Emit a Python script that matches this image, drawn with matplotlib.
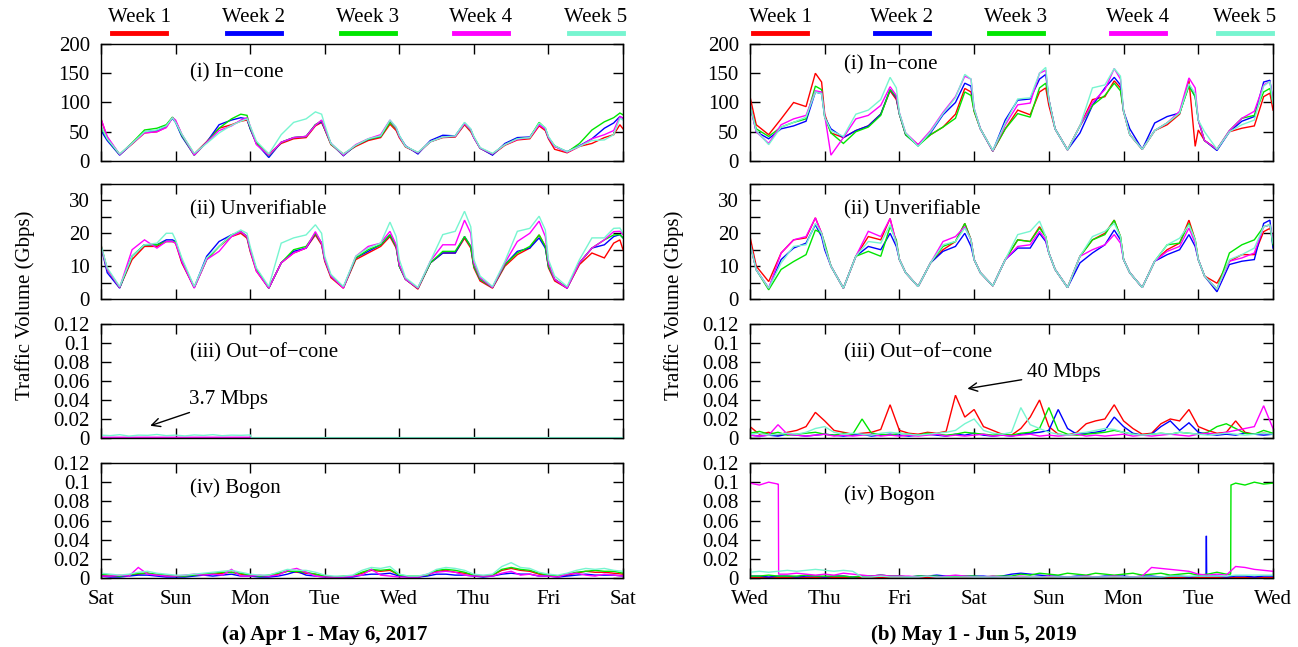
import numpy as np
import matplotlib
matplotlib.use('Agg')
import matplotlib.pyplot as plt
from matplotlib.lines import Line2D

plt.rcParams['font.family'] = ['Liberation Serif', 'DejaVu Serif']
plt.rcParams['font.size'] = 15

# ── Sampling grids ────────────────────────────────────────────────────────────
# diurnal series: 8 samples per day at these hours (+ final midnight)
DAY_HOURS = [0, 2, 6, 10, 14, 18, 21, 23]
T_DIURNAL = [d + h / 24 for d in range(7) for h in DAY_HOURS] + [7]
# small / noisy series: every 3 hours
HOURS_3H = list(range(0, 169, 3))

WEEKS = ['Week 1', 'Week 2', 'Week 3', 'Week 4', 'Week 5']
WEEK_COLORS = ['#ff0000', '#0000ff', '#00e600', '#ff00ff', '#77f5d0']
DAYS_A = ['Sat', 'Sun', 'Mon', 'Tue', 'Wed', 'Thu', 'Fri', 'Sat']
DAYS_B = ['Wed', 'Thu', 'Fri', 'Sat', 'Sun', 'Mon', 'Tue', 'Wed']

# ── (a) 2017: In-cone (Gbps) ──────────────────────────────────────────────────
IN_A_W1 = [72, 40, 11, 29, 48, 50, 58, 74,  68, 45, 12, 33, 56, 62, 68, 70,
           56, 30, 12, 30, 38, 40, 60, 66,  54, 28, 12, 25, 35, 40, 63, 52,
           40, 24, 14, 33, 40, 41, 62, 50,  40, 22, 11, 27, 36, 38, 60, 52,
           38, 20, 14, 25, 30, 40, 45, 62,  55]
IN_A_W2 = [52, 35, 10, 30, 50, 52, 60, 73,  66, 42, 10, 32, 62, 70, 74, 72,
           55, 30, 6, 32, 40, 42, 62, 67,   55, 30, 9, 27, 37, 42, 68, 56,
           43, 26, 12, 35, 44, 43, 65, 54,  40, 22, 10, 30, 40, 41, 63, 55,
           40, 25, 16, 26, 38, 56, 65, 76,  73]
IN_A_W3 = [58, 38, 11, 31, 53, 56, 62, 75,  68, 44, 10, 32, 56, 72, 80, 78,
           57, 31, 9, 32, 40, 42, 62, 69,   55, 29, 10, 27, 37, 42, 66, 55,
           42, 25, 14, 33, 41, 42, 64, 52,  41, 22, 12, 28, 38, 40, 66, 56,
           40, 26, 15, 30, 53, 67, 74, 82,  79]
IN_A_W4 = [72, 42, 11, 30, 48, 50, 57, 74,  70, 46, 10, 32, 52, 60, 70, 74,
           60, 28, 10, 32, 40, 42, 61, 70,  56, 30, 10, 28, 38, 45, 70, 56,
           42, 25, 14, 33, 41, 42, 64, 53,  40, 22, 12, 28, 37, 40, 62, 55,
           40, 25, 15, 25, 38, 45, 52, 76,  73]
IN_A_W5 = [60, 38, 12, 30, 50, 53, 60, 74,  66, 46, 13, 30, 48, 61, 68, 72,
           60, 34, 12, 45, 66, 72, 84, 80,  62, 30, 12, 27, 38, 43, 70, 58,
           44, 25, 15, 33, 41, 43, 66, 55,  42, 23, 13, 28, 38, 40, 65, 57,
           42, 26, 16, 25, 35, 36, 45, 73,  70]

# ── (a) 2017: Unverifiable (Gbps) ─────────────────────────────────────────────
UNV_A_W1 = [16.5, 9, 3.5, 12, 16, 16, 17.5, 17.5,  17, 11, 3.5, 12, 16, 19, 20, 18.5,
            14.5, 8.5, 3.3, 11, 14, 15.5, 19.5, 16.5,  11.5, 6.5, 3.3, 12, 14, 16, 19, 15.5,
            10, 6, 3, 11, 14, 14, 18.5, 15.5,  9.5, 5.5, 3.3, 10, 13.5, 15.5, 19.5, 16,
            9.5, 5.5, 3.3, 10.5, 14, 12.5, 17, 18,  15]
UNV_A_W2 = [16, 8, 3.3, 13, 16.5, 16.5, 18, 18,  17.5, 11.5, 3.5, 13, 17.5, 19.5, 20.5, 19,
            15, 9, 3.3, 11, 14.5, 15.5, 20, 17,  12, 7, 3.5, 12.5, 14.5, 16.5, 19.5, 16,
            10, 6, 3.3, 11, 14, 14, 19, 16,  10, 6, 3.5, 10.5, 14.5, 15.5, 18.6, 15.5,
            10, 6, 3.3, 11, 15.5, 16.5, 19, 19.6,  18.6]
UNV_A_W3 = [16, 9, 3.5, 13, 16.5, 16.5, 17.5, 17.5,  17.5, 12, 3.5, 12, 16, 19.5, 20.5, 19,
            15, 9, 3.3, 11, 15, 16, 20, 17,  12, 7, 3.5, 12.5, 15, 16.5, 19.6, 16,
            10, 6, 3.3, 11, 14.5, 14.5, 19, 16,  10, 6, 3.5, 10.5, 14, 16, 19.5, 16,
            10, 6, 3.5, 11, 15.5, 18, 19.5, 19.6,  18.6]
UNV_A_W4 = [16, 9, 3.5, 15, 18, 15.5, 17.5, 17.5,  17, 11.5, 3.3, 12, 14.5, 19, 20.5, 19,
            15, 8.5, 3.3, 11, 14, 15.5, 20.5, 17,  12, 7, 3.3, 13, 16, 17, 20.6, 16.5,
            10.5, 6, 3.3, 11.5, 16.5, 16.5, 24, 20,  11, 6.5, 3.5, 11, 17.5, 20, 23.7, 19,
            11, 6, 3.3, 11, 15.5, 18, 20.5, 20.6,  19.6]
UNV_A_W5 = [16.5, 9.5, 3.8, 13, 16.5, 17, 20, 20,  18, 12.5, 3.8, 12.5, 16, 19.5, 21, 20,
            16, 9.5, 3.8, 17, 18.6, 19.5, 22.6, 20,  13, 7.5, 3.8, 13, 15.5, 17, 23.4, 19,
            12, 6.5, 3.5, 11.5, 19.6, 20.6, 26.7, 22,  12, 7, 3.8, 11.5, 20.6, 21.5, 25.2, 21,
            12, 7, 3.8, 12, 18.6, 18.6, 21.5, 21.6,  20]

# ── (a) 2017: Out-of-cone (Gbps) ──────────────────────────────────────────────
OUT_A_FLAT_H = [0, 168]
OUT_A_W1 = [0.0003, 0.0003]
OUT_A_W2 = [0.0003, 0.0003]
OUT_A_W3 = [0.0003, 0.0003]
OUT_A_W4_H = [0, 48, 48.5, 168]
OUT_A_W4 = [0.0008, 0.0008, 0.0002, 0.0002]
OUT_A_W5_H = [0, 3, 6, 9, 12, 15, 18, 21, 24, 27, 30, 33, 36, 39, 42, 45, 48, 48.5, 168]
OUT_A_W5 = [0.003, 0.0025, 0.0035, 0.002, 0.003, 0.0028, 0.0037, 0.0025,
            0.003, 0.0022, 0.0032, 0.0027, 0.0035, 0.0024, 0.003, 0.0028,
            0.0032, 0.0004, 0.0004]

# ── (a) 2017: Bogon (Gbps), 3-hourly ──────────────────────────────────────────
BOG_A_W1 = [0.003, 0.002, 0.002, 0.003, 0.004, 0.005, 0.003, 0.002,
            0.002, 0.002, 0.003, 0.004, 0.004, 0.005, 0.006, 0.004,
            0.003, 0.002, 0.002, 0.004, 0.007, 0.006, 0.005, 0.004,
            0.002, 0.001, 0.001, 0.002, 0.005, 0.008, 0.007, 0.008,
            0.003, 0.001, 0.001, 0.003, 0.007, 0.008, 0.006, 0.005,
            0.003, 0.002, 0.003, 0.008, 0.010, 0.008, 0.007, 0.004,
            0.003, 0.002, 0.003, 0.005, 0.007, 0.006, 0.006, 0.005, 0.004]
BOG_A_W2 = [0.002, 0.001, 0.001, 0.002, 0.003, 0.003, 0.002, 0.001,
            0.001, 0.001, 0.002, 0.003, 0.002, 0.003, 0.004, 0.002,
            0.002, 0.001, 0.001, 0.002, 0.004, 0.007, 0.003, 0.002,
            0.001, 0.001, 0.001, 0.001, 0.003, 0.004, 0.004, 0.005,
            0.002, 0.001, 0.001, 0.002, 0.004, 0.004, 0.003, 0.003,
            0.002, 0.001, 0.002, 0.004, 0.005, 0.004, 0.004, 0.002,
            0.002, 0.001, 0.002, 0.003, 0.004, 0.003, 0.003, 0.003, 0.002]
BOG_A_W3 = [0.004, 0.003, 0.002, 0.003, 0.005, 0.005, 0.004, 0.003,
            0.002, 0.002, 0.003, 0.004, 0.005, 0.006, 0.006, 0.005,
            0.003, 0.002, 0.003, 0.005, 0.007, 0.007, 0.006, 0.004,
            0.002, 0.001, 0.002, 0.002, 0.006, 0.009, 0.008, 0.009,
            0.003, 0.002, 0.002, 0.003, 0.008, 0.009, 0.008, 0.006,
            0.003, 0.002, 0.003, 0.009, 0.011, 0.009, 0.008, 0.005,
            0.003, 0.002, 0.004, 0.006, 0.007, 0.008, 0.007, 0.007, 0.005]
BOG_A_W4 = [0.002, 0.002, 0.003, 0.002, 0.011, 0.004, 0.003, 0.002,
            0.002, 0.003, 0.004, 0.003, 0.004, 0.003, 0.009, 0.002,
            0.002, 0.003, 0.002, 0.003, 0.008, 0.010, 0.006, 0.002,
            0.001, 0.001, 0.001, 0.002, 0.003, 0.009, 0.003, 0.002,
            0.001, 0.001, 0.001, 0.004, 0.006, 0.007, 0.006, 0.003,
            0.002, 0.002, 0.002, 0.005, 0.007, 0.003, 0.004, 0.002,
            0.002, 0.001, 0.004, 0.005, 0.003, 0.002, 0.004, 0.003, 0.002]
BOG_A_W5 = [0.005, 0.004, 0.003, 0.004, 0.006, 0.007, 0.005, 0.004,
            0.003, 0.003, 0.004, 0.005, 0.006, 0.007, 0.008, 0.006,
            0.004, 0.003, 0.003, 0.006, 0.009, 0.008, 0.008, 0.006,
            0.003, 0.002, 0.002, 0.003, 0.008, 0.011, 0.010, 0.012,
            0.004, 0.002, 0.002, 0.004, 0.009, 0.011, 0.010, 0.008,
            0.004, 0.003, 0.004, 0.012, 0.016, 0.011, 0.010, 0.006,
            0.004, 0.003, 0.005, 0.008, 0.010, 0.009, 0.010, 0.008, 0.007]

# ── (b) 2019: In-cone (Gbps) ──────────────────────────────────────────────────
IN_B_W1 = [110, 62, 45, 72, 100, 93, 150, 135,  80, 48, 40, 52, 60, 80, 120, 105,
           80, 45, 28, 45, 58, 80, 124, 118,   85, 55, 17, 55, 87, 79, 118, 125,
           95, 55, 19, 60, 105, 110, 137, 125,  85, 45, 20, 52, 62, 80, 138, 25,
           53, 35, 20, 50, 56, 60, 110, 116,  87]
IN_B_W2 = [96, 50, 38, 55, 60, 68, 118, 115,  75, 55, 40, 52, 60, 80, 122, 108,
           80, 45, 26, 48, 79, 100, 133, 128,  88, 55, 17, 70, 104, 106, 140, 148,
           105, 55, 19, 48, 95, 125, 143, 130,  85, 55, 20, 65, 76, 82, 130, 110,
           70, 35, 18, 50, 68, 76, 135, 138,  99]
IN_B_W3 = [96, 55, 42, 58, 66, 72, 128, 122,  75, 48, 30, 50, 58, 78, 122, 110,
           80, 45, 26, 45, 58, 73, 118, 112,  85, 55, 17, 55, 81, 75, 125, 133,
           105, 55, 19, 60, 95, 112, 133, 120,  85, 45, 20, 52, 65, 82, 128, 110,
           70, 35, 20, 52, 73, 78, 118, 124,  99]
IN_B_W4 = [96, 50, 30, 62, 72, 78, 120, 118,  78, 10, 40, 72, 78, 95, 127, 112,
           82, 48, 28, 52, 83, 110, 145, 140,  90, 55, 17, 62, 96, 99, 150, 155,
           105, 55, 19, 60, 100, 122, 158, 140,  85, 45, 20, 52, 65, 85, 142, 125,
           70, 35, 20, 52, 73, 85, 130, 136,  105]
IN_B_W5 = [96, 52, 28, 58, 66, 75, 118, 115,  75, 52, 42, 80, 87, 105, 143, 125,
           82, 48, 25, 50, 81, 108, 148, 140,  90, 55, 18, 65, 106, 108, 150, 160,
           105, 55, 19, 60, 125, 130, 158, 145,  85, 45, 20, 52, 65, 82, 132, 115,
           70, 50, 20, 50, 62, 70, 128, 136,  99]

# ── (b) 2019: Unverifiable (Gbps) ─────────────────────────────────────────────
UNV_B_W1 = [19, 10, 5.3, 14, 18, 18.6, 24.7, 20,  16, 10, 3.3, 13, 19, 18, 24.5, 17,
            12, 8, 3.8, 11, 15, 17.5, 23, 18,  12, 8, 4, 12, 18, 17.5, 22, 19,
            14, 9, 3.5, 13, 18, 20, 24, 19,  12, 8, 3.5, 11.5, 15, 17, 24, 18,
            12, 7, 4.8, 11.5, 13.5, 13.5, 20.5, 21.5,  18.6]
UNV_B_W2 = [17, 8.9, 3.3, 12, 15.5, 17, 22.6, 19,  15, 10, 3.3, 13, 16, 15, 20, 16,
            12, 8, 3.8, 11, 14.5, 16, 20, 16,  12, 8, 4, 12, 15.5, 15.5, 20, 17.5,
            14, 9, 3.5, 11, 14, 16.5, 21, 18,  12, 8, 3.5, 11.5, 13.5, 15, 19.6, 16,
            12, 7, 2.2, 10.5, 11.5, 12, 23, 24,  15.5]
UNV_B_W3 = [17, 8.9, 2.8, 9, 11.4, 13.5, 21, 20,  17, 10, 3.3, 13, 14.5, 13, 22, 18,
            12, 8, 3.8, 11, 16, 17.5, 23, 18,  12, 8, 4, 12, 18, 17.5, 21.6, 19,
            14, 9, 3.5, 13, 18, 19.6, 24, 19,  12, 8, 3.5, 11.5, 16.5, 17, 23, 18,
            12, 7, 3, 14, 16.5, 18, 22, 22.6,  16.5]
UNV_B_W4 = [17, 8.9, 3.3, 14, 18, 19, 24.7, 20,  16, 10, 3.3, 13, 20.6, 19, 24.5, 17,
            12, 8, 3.8, 11, 17.5, 19, 22, 18,  12, 8, 4, 12, 16, 16.5, 20.6, 18,
            14, 9, 3.5, 13, 15, 16.5, 19.6, 17,  12, 8, 3.5, 11.5, 14.5, 16, 21.6, 17,
            12, 7, 3, 11.5, 12.5, 14, 22, 22.5,  18]
UNV_B_W5 = [17, 8.9, 3.3, 11, 16, 16.5, 23, 20,  16, 10, 3.3, 13, 17.5, 17, 22.6, 17,
            12, 8, 3.8, 11, 16.5, 17.5, 21.6, 18,  12, 8, 4, 12, 19.6, 20.6, 23.7, 19,
            14, 9, 3.5, 13, 19, 20.6, 23, 19,  12, 8, 3.5, 11.5, 16.5, 18.5, 22.6, 18,
            12, 7, 3, 12, 13.5, 15.5, 22, 22.6,  17]

# ── (b) 2019: Out-of-cone (Gbps), 3-hourly ────────────────────────────────────
OUT_B_W1 = [0.012, 0.004, 0.006, 0.003, 0.006, 0.008, 0.012, 0.027,
            0.018, 0.008, 0.006, 0.004, 0.005, 0.006, 0.009, 0.035,
            0.008, 0.005, 0.004, 0.006, 0.005, 0.007, 0.045, 0.022,
            0.030, 0.012, 0.008, 0.004, 0.003, 0.010, 0.022, 0.040,
            0.012, 0.004, 0.003, 0.006, 0.015, 0.018, 0.020, 0.035,
            0.018, 0.010, 0.004, 0.005, 0.015, 0.020, 0.018, 0.030,
            0.012, 0.008, 0.005, 0.006, 0.018, 0.006, 0.004, 0.005, 0.004]
OUT_B_W2 = [0.003, 0.002, 0.003, 0.002, 0.004, 0.003, 0.002, 0.003,
            0.004, 0.003, 0.002, 0.003, 0.004, 0.002, 0.003, 0.004,
            0.003, 0.002, 0.003, 0.004, 0.003, 0.002, 0.004, 0.003,
            0.005, 0.003, 0.002, 0.003, 0.002, 0.004, 0.005, 0.006,
            0.008, 0.030, 0.010, 0.004, 0.005, 0.006, 0.008, 0.022,
            0.012, 0.005, 0.003, 0.004, 0.012, 0.018, 0.008, 0.016,
            0.006, 0.004, 0.003, 0.004, 0.003, 0.005, 0.004, 0.003, 0.004]
OUT_B_W3 = [0.005, 0.007, 0.004, 0.006, 0.003, 0.004, 0.005, 0.006,
            0.004, 0.003, 0.005, 0.004, 0.020, 0.005, 0.004, 0.003,
            0.005, 0.004, 0.003, 0.005, 0.004, 0.003, 0.004, 0.006,
            0.005, 0.004, 0.003, 0.004, 0.003, 0.005, 0.006, 0.010,
            0.032, 0.008, 0.004, 0.003, 0.004, 0.005, 0.006, 0.008,
            0.006, 0.004, 0.003, 0.004, 0.005, 0.004, 0.006, 0.005,
            0.004, 0.006, 0.012, 0.015, 0.010, 0.005, 0.004, 0.008, 0.005]
OUT_B_W4 = [0.003, 0.002, 0.003, 0.014, 0.004, 0.003, 0.002, 0.003,
            0.004, 0.002, 0.003, 0.002, 0.003, 0.004, 0.002, 0.003,
            0.002, 0.003, 0.002, 0.003, 0.004, 0.002, 0.003, 0.002,
            0.003, 0.004, 0.002, 0.003, 0.002, 0.003, 0.004, 0.002,
            0.003, 0.002, 0.003, 0.004, 0.002, 0.003, 0.002, 0.003,
            0.004, 0.002, 0.003, 0.002, 0.003, 0.004, 0.003, 0.002,
            0.004, 0.005, 0.004, 0.006, 0.008, 0.010, 0.012, 0.034, 0.010]
OUT_B_W5 = [0.004, 0.005, 0.003, 0.004, 0.005, 0.004, 0.006, 0.010,
            0.012, 0.006, 0.004, 0.005, 0.004, 0.003, 0.005, 0.006,
            0.005, 0.004, 0.003, 0.004, 0.005, 0.006, 0.008, 0.015,
            0.020, 0.008, 0.005, 0.004, 0.006, 0.032, 0.014, 0.010,
            0.006, 0.004, 0.003, 0.005, 0.006, 0.008, 0.010, 0.009,
            0.006, 0.004, 0.003, 0.004, 0.005, 0.004, 0.006, 0.005,
            0.004, 0.003, 0.004, 0.005, 0.004, 0.003, 0.004, 0.005, 0.004]

# ── (b) 2019: Bogon (Gbps) ────────────────────────────────────────────────────
BOG_B_W1_H = [0, 168]
BOG_B_W1 = [0.001, 0.001]
BOG_B_W2_H = list(range(0, 145, 3)) + [146.5, 146.6, 146.7] + list(range(147, 169, 3))
BOG_B_W2 = [0.002, 0.002, 0.001, 0.002, 0.002, 0.001, 0.002, 0.002,
            0.001, 0.002, 0.002, 0.001, 0.002, 0.002, 0.003, 0.002,
            0.002, 0.001, 0.002, 0.002, 0.003, 0.002, 0.002, 0.002,
            0.002, 0.002, 0.001, 0.002, 0.004, 0.005, 0.004, 0.003,
            0.002, 0.002, 0.001, 0.002, 0.002, 0.001, 0.002, 0.002,
            0.002, 0.001, 0.002, 0.002, 0.001, 0.002, 0.002, 0.001,
            0.002,
            0.002, 0.044, 0.002,
            0.002, 0.002, 0.001, 0.002, 0.002, 0.001, 0.002, 0.002]
BOG_B_W3_H = list(range(0, 154, 3)) + [154.4, 154.5] + list(range(156, 169, 3))
BOG_B_W3 = [0.002, 0.002, 0.003, 0.002, 0.002, 0.002, 0.003, 0.002,
            0.002, 0.002, 0.002, 0.001, 0.002, 0.002, 0.003, 0.002,
            0.002, 0.001, 0.002, 0.002, 0.002, 0.001, 0.002, 0.002,
            0.002, 0.001, 0.002, 0.002, 0.002, 0.004, 0.003, 0.005,
            0.004, 0.003, 0.005, 0.004, 0.003, 0.005, 0.004, 0.003,
            0.004, 0.005, 0.003, 0.004, 0.005, 0.003, 0.004, 0.005,
            0.003, 0.004, 0.006, 0.004,
            0.004, 0.097,
            0.099, 0.097, 0.100, 0.098, 0.099]
BOG_B_W4_H = [0, 3, 6, 9, 9.1, 9.2] + list(range(12, 169, 3))
BOG_B_W4 = [0.099, 0.097, 0.100, 0.098, 0.098, 0.004,
            0.004, 0.005, 0.004, 0.003, 0.004, 0.003, 0.005, 0.004, 0.003, 0.002,
            0.003, 0.002, 0.002,
            0.002, 0.001, 0.002, 0.001, 0.002, 0.003, 0.002, 0.001, 0.001, 0.002,
            0.001, 0.001, 0.002, 0.001, 0.001, 0.002, 0.001, 0.001, 0.001, 0.002,
            0.001, 0.001, 0.002, 0.001, 0.001, 0.002,
            0.011, 0.010, 0.009, 0.008, 0.007,
            0.004, 0.003, 0.004, 0.003,
            0.012, 0.011, 0.009, 0.008, 0.007]
BOG_B_W5 = [0.006, 0.007, 0.006, 0.007, 0.008, 0.007, 0.008, 0.009,
            0.008, 0.007, 0.008, 0.007, 0.001, 0.001, 0.002, 0.001,
            0.001, 0.001, 0.001, 0.002, 0.001, 0.001, 0.001, 0.001,
            0.001, 0.001, 0.001, 0.001, 0.001, 0.001, 0.001, 0.001,
            0.001, 0.001, 0.001, 0.001, 0.001, 0.001, 0.001, 0.001,
            0.001, 0.001, 0.001, 0.001, 0.001, 0.002, 0.002, 0.002,
            0.002, 0.002, 0.002, 0.002, 0.003, 0.003, 0.003, 0.003, 0.003]


def days(hours):
    return np.asarray(hours) / 24


# (x, y) pairs per panel, in week order
PANELS_A = [
    [(T_DIURNAL, s) for s in (IN_A_W1, IN_A_W2, IN_A_W3, IN_A_W4, IN_A_W5)],
    [(T_DIURNAL, s) for s in (UNV_A_W1, UNV_A_W2, UNV_A_W3, UNV_A_W4, UNV_A_W5)],
    [(days(OUT_A_FLAT_H), OUT_A_W1), (days(OUT_A_FLAT_H), OUT_A_W2),
     (days(OUT_A_FLAT_H), OUT_A_W3), (days(OUT_A_W4_H), OUT_A_W4),
     (days(OUT_A_W5_H), OUT_A_W5)],
    [(days(HOURS_3H), s) for s in (BOG_A_W1, BOG_A_W2, BOG_A_W3, BOG_A_W4, BOG_A_W5)],
]
PANELS_B = [
    [(T_DIURNAL, s) for s in (IN_B_W1, IN_B_W2, IN_B_W3, IN_B_W4, IN_B_W5)],
    [(T_DIURNAL, s) for s in (UNV_B_W1, UNV_B_W2, UNV_B_W3, UNV_B_W4, UNV_B_W5)],
    [(days(HOURS_3H), s) for s in (OUT_B_W1, OUT_B_W2, OUT_B_W3, OUT_B_W4, OUT_B_W5)],
    [(days(BOG_B_W1_H), BOG_B_W1), (days(BOG_B_W2_H), BOG_B_W2),
     (days(BOG_B_W3_H), BOG_B_W3), (days(BOG_B_W4_H), BOG_B_W4),
     (days(HOURS_3H), BOG_B_W5)],
]

PANEL_NAMES = ['(i) In\u2212cone', '(ii) Unverifiable', '(iii) Out\u2212of\u2212cone', '(iv) Bogon']
SMALL_TICKS = [0, 0.02, 0.04, 0.06, 0.08, 0.1, 0.12]
SMALL_LABELS = ['0', '0.02', '0.04', '0.06', '0.08', '0.1', '0.12']
Y_SETUP = [
    ((0, 200), [0, 50, 100, 150, 200], ['0', '50', '100', '150', '200']),
    ((0, 35), [0, 5, 10, 15, 20, 25, 30, 35], ['0', '', '10', '', '20', '', '30', '']),
    ((0, 0.12), SMALL_TICKS, SMALL_LABELS),
    ((0, 0.12), SMALL_TICKS, SMALL_LABELS),
]

# ── Layout (pixels of the 1298x647 canvas) ────────────────────────────────────
W, H = 1298, 647
ROWS_PX = [(44, 161), (184, 299), (324, 438), (463, 578)]
COLS_PX = [(101, 623), (750, 1273)]
LABEL_POS = [
    [(0.17, 0.75), (0.17, 0.78), (0.17, 0.75), (0.17, 0.78)],
    [(0.18, 0.82), (0.18, 0.78), (0.18, 0.75), (0.18, 0.72)],
]
LEGEND_X = [[139, 254, 368, 481, 596], [780, 902, 1016, 1138, 1245]]
CAPTIONS = ['(a) Apr 1 - May 6, 2017', '(b) May 1 - Jun 5, 2019']

fig = plt.figure(figsize=(W / 100, H / 100), dpi=100)

for col, (panels, day_names) in enumerate([(PANELS_A, DAYS_A), (PANELS_B, DAYS_B)]):
    x0, x1 = COLS_PX[col]
    axes = []
    for row, series in enumerate(panels):
        y0, y1 = ROWS_PX[row]
        ax = fig.add_axes([x0 / W, 1 - y1 / H, (x1 - x0) / W, (y1 - y0) / H])
        for (t, v), c in zip(series, WEEK_COLORS):
            ax.plot(t, v, color=c, lw=1.0, solid_joinstyle='miter')
        ylim, yt, yl = Y_SETUP[row]
        ax.set_ylim(*ylim)
        ax.set_yticks(yt)
        ax.set_yticklabels(yl)
        ax.set_xlim(0, 7)
        ax.set_xticks(range(8))
        if row == 3:
            ax.set_xticklabels(day_names)
        else:
            ax.set_xticklabels([])
        ax.tick_params(direction='in', top=True, right=True, length=7, width=1,
                       labelsize=15)
        ax.tick_params(axis='x', pad=9)
        ax.tick_params(axis='y', pad=8)
        for sp in ax.spines.values():
            sp.set_linewidth(1.0)
        lx, ly = LABEL_POS[col][row]
        ax.text(lx, ly, PANEL_NAMES[row], transform=ax.transAxes,
                ha='left', va='center', fontsize=15)
        axes.append(ax)

    # legend across the top
    for name, c, cx in zip(WEEKS, WEEK_COLORS, LEGEND_X[col]):
        fig.text(cx / W, 1 - 18 / H, name, ha='center', va='center', fontsize=15)
        fig.add_artist(Line2D([(cx - 27) / W, (cx + 27) / W], [1 - 33 / H] * 2,
                              color=c, lw=3.5))

    fig.text((x0 - 76) / W, 1 - 305 / H, 'Traffic Volume (Gbps)', rotation=90,
             ha='center', va='center', fontsize=15)
    fig.text((col * 649 + 324.5) / W, 1 - 635 / H, CAPTIONS[col],
             ha='center', va='center', fontsize=15, fontweight='bold')

    if col == 0:
        axes[2].annotate('3.7 Mbps', xy=(0.66, 0.0129), xytext=(1.18, 0.0407),
                         va='center', fontsize=15,
                         arrowprops=dict(arrowstyle='->', lw=1, color='black',
                                         shrinkA=2, shrinkB=0))
    else:
        axes[2].annotate('40 Mbps', xy=(2.91, 0.0519), xytext=(3.71, 0.0687),
                         va='center', fontsize=15,
                         arrowprops=dict(arrowstyle='->', lw=1, color='black',
                                         shrinkA=2, shrinkB=0))

fig.savefig('out.png', dpi=100)
